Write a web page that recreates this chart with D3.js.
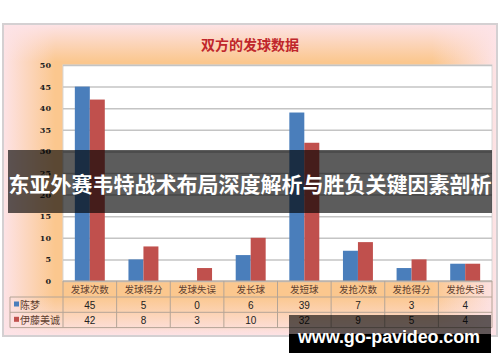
<!DOCTYPE html>
<html>
<head>
<meta charset="utf-8">
<script src="https://cdn.jsdelivr.net/npm/d3@7"></script>
<style>
  body { margin: 0; background: #fff; }
  svg { display: block; }
</style>
</head>
<body>
<div id="chart"></div>
<script>
var categories = ["发球次数", "发球得分", "发球失误", "发长球", "发短球", "发抢次数", "发抢得分", "发抢失误"];
var seriesNames = ["陈梦", "伊藤美诚"];
var chenMeng = [45, 5, 0, 6, 39, 7, 3, 4];
var itoMima = [42, 8, 3, 10, 32, 9, 5, 4];
var yTicks = [0, 5, 10, 15, 20, 25, 30, 35, 40, 45, 50];
var seriesColors = ["#4a7ebb", "#c0504d"];

var svgWidth = 500;
var svgHeight = 362;

var plot = { left: 63, right: 492, top: 65, bottom: 281 };
var rowH = 15.3;

var svg = d3.select("#chart")
  .append("svg")
  .attr("width", svgWidth)
  .attr("height", svgHeight);

var defs = svg.append("defs");

function edgeGrad(id, x1, y1, x2, y2) {
  var g = defs.append("linearGradient").attr("id", id)
    .attr("x1", x1).attr("y1", y1).attr("x2", x2).attr("y2", y2);
  g.append("stop").attr("offset", "0%").attr("stop-color", "#fde3e7").attr("stop-opacity", 1);
  g.append("stop").attr("offset", "100%").attr("stop-color", "#fde3e7").attr("stop-opacity", 0);
}
edgeGrad("gLeft", 0, 0, 1, 0);
edgeGrad("gRight", 1, 0, 0, 0);
edgeGrad("gTop", 0, 0, 0, 1);
edgeGrad("gBottom", 0, 1, 0, 0);

// chart frame
var frame = { x: 3, y: 24, w: 494, h: 312 };
svg.append("rect")
  .attr("x", frame.x).attr("y", frame.y)
  .attr("width", frame.w).attr("height", frame.h)
  .attr("fill", "#fbc78e");
svg.append("rect").attr("x", frame.x).attr("y", frame.y).attr("width", 52).attr("height", frame.h).attr("fill", "url(#gLeft)");
svg.append("rect").attr("x", frame.x + frame.w - 65).attr("y", frame.y).attr("width", 65).attr("height", frame.h).attr("fill", "url(#gRight)");
svg.append("rect").attr("x", frame.x).attr("y", frame.y).attr("width", frame.w).attr("height", 38).attr("fill", "url(#gTop)");
svg.append("rect").attr("x", frame.x).attr("y", frame.y + frame.h - 40).attr("width", frame.w).attr("height", 40).attr("fill", "url(#gBottom)");
svg.append("rect")
  .attr("x", frame.x).attr("y", frame.y)
  .attr("width", frame.w).attr("height", frame.h)
  .attr("fill", "none")
  .attr("stroke", "#d4d0d2")
  .attr("stroke-width", 2);

// title
svg.append("text")
  .attr("x", 250).attr("y", 50)
  .attr("text-anchor", "middle")
  .style("font-family", "'Noto Sans CJK SC'")
  .style("font-weight", "bold")
  .style("font-size", "14px")
  .attr("fill", "#c0262b")
  .text("双方的发球数据");

// scales
var x = d3.scaleBand()
  .domain(categories)
  .range([plot.left, plot.right])
  .paddingInner(0).paddingOuter(0);

var xSub = d3.scaleBand()
  .domain(seriesNames)
  .range([0, x.bandwidth()])
  .paddingInner(0)
  .paddingOuter(0.79);

var y = d3.scaleLinear()
  .domain([0, 50])
  .range([plot.bottom, plot.top]);

// plot area
svg.append("rect")
  .attr("x", plot.left).attr("y", plot.top)
  .attr("width", plot.right - plot.left)
  .attr("height", plot.bottom - plot.top)
  .attr("fill", "#ffffff")
  .attr("stroke", "#d8d8d8")
  .attr("stroke-width", 1);

// gridlines
var grid = svg.append("g")
  .attr("transform", `translate(${plot.left},0)`)
  .call(d3.axisLeft(y).tickValues(yTicks).tickSize(-(plot.right - plot.left)).tickFormat(""));
grid.select(".domain").remove();
grid.selectAll("line").attr("stroke", "#c4c4c4").attr("stroke-width", 1.5);

// y axis labels
var yAxis = svg.append("g")
  .attr("transform", `translate(${plot.left - 9},0)`)
  .call(d3.axisLeft(y).tickValues(yTicks).tickSize(0));
yAxis.select(".domain").remove();
yAxis.selectAll("text")
  .style("font-family", "'DejaVu Serif'")
  .style("font-weight", "bold")
  .style("font-size", "8px")
  .attr("fill", "#222");

// bars
var seriesData = [chenMeng, itoMima];
seriesData.forEach(function(values, si) {
  svg.append("g").selectAll("rect")
    .data(values)
    .enter()
    .append("rect")
    .attr("x", (d, i) => x(categories[i]) + xSub(seriesNames[si]))
    .attr("y", d => y(d))
    .attr("width", xSub.bandwidth())
    .attr("height", d => y(0) - y(d))
    .attr("fill", seriesColors[si]);
});

// data table
var table = svg.append("g");
var tableLeft = 10;
var r0 = plot.bottom, r1 = r0 + 16, r2 = r1 + rowH, r3 = r2 + rowH;
var lineColor = "#b4a496";

table.selectAll("text.cat")
  .data(categories)
  .enter()
  .append("text")
  .attr("class", "cat")
  .attr("x", d => x(d) + x.bandwidth() / 2)
  .attr("y", r0 + 12)
  .attr("text-anchor", "middle")
  .style("font-family", "'Noto Sans CJK SC'")
  .style("font-size", "9.5px")
  .attr("fill", "#5e4030")
  .text(d => d);

seriesData.forEach(function(values, si) {
  var rowTop = si === 0 ? r1 : r2;
  table.append("g").selectAll("text")
    .data(values)
    .enter()
    .append("text")
    .attr("x", (d, i) => x(categories[i]) + x.bandwidth() / 2)
    .attr("y", rowTop + 11.5)
    .attr("text-anchor", "middle")
    .style("font-family", "'Liberation Sans'")
    .style("font-size", "10px")
    .attr("fill", "#222")
    .text(d => d);
  table.append("rect")
    .attr("x", tableLeft + 4).attr("y", rowTop + 4.5)
    .attr("width", 5).attr("height", 5)
    .attr("fill", seriesColors[si]);
  table.append("text")
    .attr("x", tableLeft + 10).attr("y", rowTop + 11.5)
    .style("font-family", "'Noto Sans CJK SC'")
    .style("font-size", "10px")
    .attr("fill", "#5e4030")
    .text(seriesNames[si]);
});

// table lines
var hLines = [
  [plot.left, r0, plot.right, r0],
  [tableLeft, r1, plot.right, r1],
  [tableLeft, r2, plot.right, r2],
  [tableLeft, r3, plot.right, r3],
  [tableLeft, r1, tableLeft, r3]
];
categories.forEach(function(c) {
  hLines.push([x(c), r0, x(c), r3]);
});
hLines.push([plot.right, r0, plot.right, r3]);
table.selectAll("line")
  .data(hLines)
  .enter()
  .append("line")
  .attr("x1", d => d[0]).attr("y1", d => d[1])
  .attr("x2", d => d[2]).attr("y2", d => d[3])
  .attr("stroke", lineColor)
  .attr("stroke-width", 1);

// overlay banner
svg.append("rect")
  .attr("x", 8).attr("y", 150)
  .attr("width", 484).attr("height", 63)
  .attr("fill", "#000").attr("opacity", 0.64);
svg.append("text")
  .attr("x", 250).attr("y", 192)
  .attr("text-anchor", "middle")
  .style("font-family", "'Noto Sans CJK SC'")
  .style("font-weight", "bold")
  .style("font-size", "21px")
  .attr("fill", "#ffffff")
  .text("东亚外赛韦特战术布局深度解析与胜负关键因素剖析");

// watermark
svg.append("rect")
  .attr("x", 289).attr("y", 315)
  .attr("width", 202).attr("height", 19)
  .attr("fill", "#000").attr("opacity", 0.62);
svg.append("rect")
  .attr("x", 289).attr("y", 334)
  .attr("width", 202).attr("height", 19)
  .attr("fill", "#000");
svg.append("text")
  .attr("x", 298).attr("y", 343)
  .attr("textLength", 182)
  .style("font-family", "'Liberation Sans'")
  .style("font-weight", "bold")
  .style("font-size", "18px")
  .attr("fill", "#ffffff")
  .text("www.go-pavideo.com");
</script>
</body>
</html>
